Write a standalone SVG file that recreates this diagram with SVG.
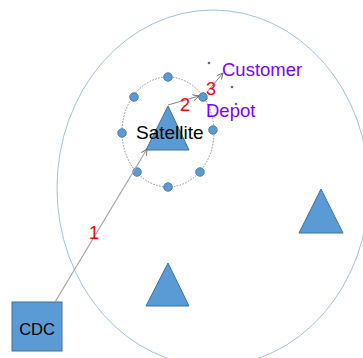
<svg xmlns="http://www.w3.org/2000/svg" width="363" height="358" viewBox="0 0 363 358">
<defs>
<style>
.shape{fill:#5B9BD5;stroke:#41719C;stroke-width:1}
.pt{fill:#5B9BD5;stroke:#41719C;stroke-width:0.8}
.lbl{font-family:"Liberation Sans",Arial,sans-serif}
.num{font-family:"Liberation Sans",Arial,sans-serif;font-size:18px;fill:#FF0000}
.purple{fill:#8000FF;font-size:18.5px}
.conn{fill:none;stroke:#A6A6A6;stroke-width:1.2}
.conn2{fill:none;stroke:#666;stroke-width:0.8}
</style>
<marker id="ah" markerWidth="8" markerHeight="8" refX="7" refY="4" orient="auto" markerUnits="userSpaceOnUse">
<path d="M1,1 L7,4 L1,7" fill="none" stroke="#666" stroke-width="0.9"/>
</marker>
</defs>
<rect width="363" height="358" fill="#fff"/>
<ellipse id="region" cx="213" cy="188" rx="156" ry="178" fill="none" stroke="#9DC3E6" stroke-width="1"/>
<ellipse id="satellite-zone" cx="168" cy="132" rx="46" ry="55" fill="none" stroke="#8C8C8C" stroke-width="1" stroke-dasharray="1.5 1.5"/>
<g id="satellite">
<polygon class="shape" points="168,106 146,150 189,150"/>
<text class="lbl" x="136" y="139" font-size="19" fill="#000">Satellite</text>
</g>
<g id="satellite2"><polygon class="shape" points="168,263 146,306 189,306"/></g>
<g id="satellite3"><polygon class="shape" points="321,189 299,233 343,233"/></g>
<g id="cdc">
<rect class="shape" x="12" y="302" width="50" height="49"/>
<text class="lbl" x="37" y="335" font-size="16.5" fill="#000" text-anchor="middle">CDC</text>
</g>
<g id="customers">
<circle class="pt" cx="168" cy="77" r="4.3"/>
<circle class="pt" cx="134" cy="97" r="4.3"/>
<circle class="pt" cx="203" cy="97" r="4.3"/>
<circle class="pt" cx="122" cy="133" r="4.3"/>
<circle class="pt" cx="213" cy="130" r="4.3"/>
<circle class="pt" cx="137" cy="172" r="4.3"/>
<circle class="pt" cx="200" cy="172" r="4.3"/>
<circle class="pt" cx="168" cy="187" r="4.3"/>
</g>
<g id="dots" fill="#41719C">
<circle cx="209" cy="63" r="1.3"/>
<circle cx="232" cy="87" r="1.3"/>
<circle cx="236" cy="104" r="1.3"/>
</g>
<g id="connectors">
<line class="conn" x1="55" y1="302" x2="147" y2="149" marker-end="url(#ah)"/>
<line class="conn2" x1="168" y1="105" x2="199" y2="96" marker-end="url(#ah)"/>
<line class="conn2" x1="207" y1="92" x2="223" y2="73" marker-end="url(#ah)"/>
</g>
<g id="labels">
<text class="num" x="89" y="239">1</text>
<text class="num" x="180" y="111">2</text>
<text class="num" x="206" y="95">3</text>
<text class="lbl purple" x="222" y="76">Customer</text>
<text class="lbl purple" x="206" y="117">Depot</text>
</g>
</svg>
